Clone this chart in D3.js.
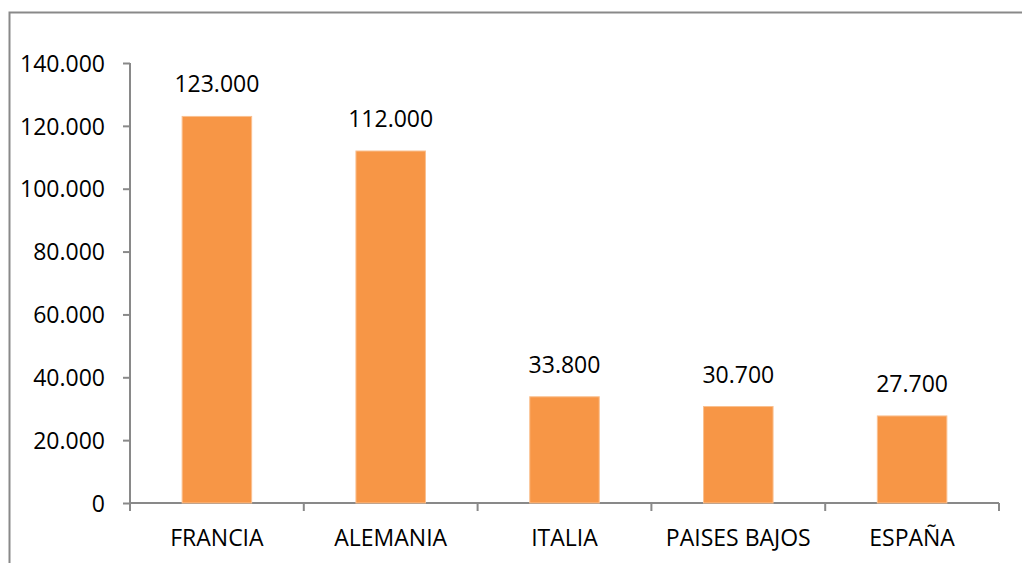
<!DOCTYPE html>
<html>
<head>
<meta charset="utf-8">
<script src="https://cdn.jsdelivr.net/npm/d3@7"></script>
<style>
  html, body { margin: 0; padding: 0; background: #fff; }
  svg { display: block; }
  text { font-family: "Open Sans", "Noto Sans", sans-serif; fill: #000; }
</style>
</head>
<body>
<svg id="chart" width="1022" height="563"></svg>
<script>
// Countries and their values
const categories = ["FRANCIA", "ALEMANIA", "ITALIA", "PAISES BAJOS", "ESPAÑA"];
const values = [123000, 112000, 33800, 30700, 27700];
const yTicks = [0, 20000, 40000, 60000, 80000, 100000, 120000, 140000];

const svg = d3.select("#chart");
const W = 1022, H = 563;
const margin = { left: 130, right: 23, top: 63, bottom: 60 };
const FS = 23;

// Outer frame (runs off the right and bottom edges)
svg.append("rect")
  .attr("x", 9.5).attr("y", 12.5)
  .attr("width", W + 10).attr("height", H + 10)
  .attr("fill", "none").attr("stroke", "#898989").attr("stroke-width", 2);

const x = d3.scaleBand()
  .domain(categories)
  .range([margin.left, W - margin.right])
  .paddingInner(0.6).paddingOuter(0.3);

const y = d3.scaleLinear()
  .domain([0, 140000])
  .range([H - margin.bottom, margin.top]);

const fmt = v => d3.format(",")(v).replace(/,/g, ".");

// Y axis
const yAxis = svg.append("g")
  .attr("transform", `translate(${margin.left},0)`)
  .call(d3.axisLeft(y).tickValues(yTicks).tickFormat(fmt).tickSize(7).tickPadding(18));
yAxis.select(".domain").attr("stroke", "#898989").attr("stroke-width", 2)
  .attr("d", `M0,${y(0)}V${y(140000)}`);
yAxis.selectAll(".tick line").attr("stroke", "#898989").attr("stroke-width", 2);
yAxis.selectAll(".tick text").attr("font-size", FS).attr("dy", "0.36em")
  .style("font-family", '"Open Sans", sans-serif');

// X axis with boundary ticks between categories
const xAxis = svg.append("g")
  .attr("transform", `translate(0,${y(0)})`);
xAxis.append("path")
  .attr("d", `M${margin.left},0H${W - margin.right}`)
  .attr("stroke", "#898989").attr("stroke-width", 2).attr("fill", "none");
const bounds = d3.range(categories.length + 1).map(i => margin.left + i * (W - margin.left - margin.right) / categories.length);
xAxis.selectAll("line.bt").data(bounds).join("line")
  .attr("class", "bt")
  .attr("x1", d => d).attr("x2", d => d)
  .attr("y1", 0).attr("y2", 8)
  .attr("stroke", "#898989").attr("stroke-width", 2);
xAxis.selectAll("text.cat").data(categories).join("text")
  .attr("class", "cat")
  .attr("x", d => x(d) + x.bandwidth() / 2)
  .attr("y", 43)
  .attr("text-anchor", "middle")
  .attr("font-size", FS)
  .text(d => d);

// Bars
const data = categories.map((c, i) => ({ c, v: values[i] }));
svg.selectAll("rect.bar").data(data).join("rect")
  .attr("class", "bar")
  .attr("x", d => x(d.c))
  .attr("width", x.bandwidth())
  .attr("y", d => y(d.v))
  .attr("height", d => y(0) - y(d.v))
  .attr("fill", "#F79646")
  .attr("stroke", "#FAC090").attr("stroke-width", 1);

// Value labels
svg.selectAll("text.val").data(data).join("text")
  .attr("class", "val")
  .attr("x", d => x(d.c) + x.bandwidth() / 2)
  .attr("y", d => y(d.v) - 24)
  .attr("text-anchor", "middle")
  .attr("font-size", FS)
  .text(d => fmt(d.v));
</script>
</body>
</html>
